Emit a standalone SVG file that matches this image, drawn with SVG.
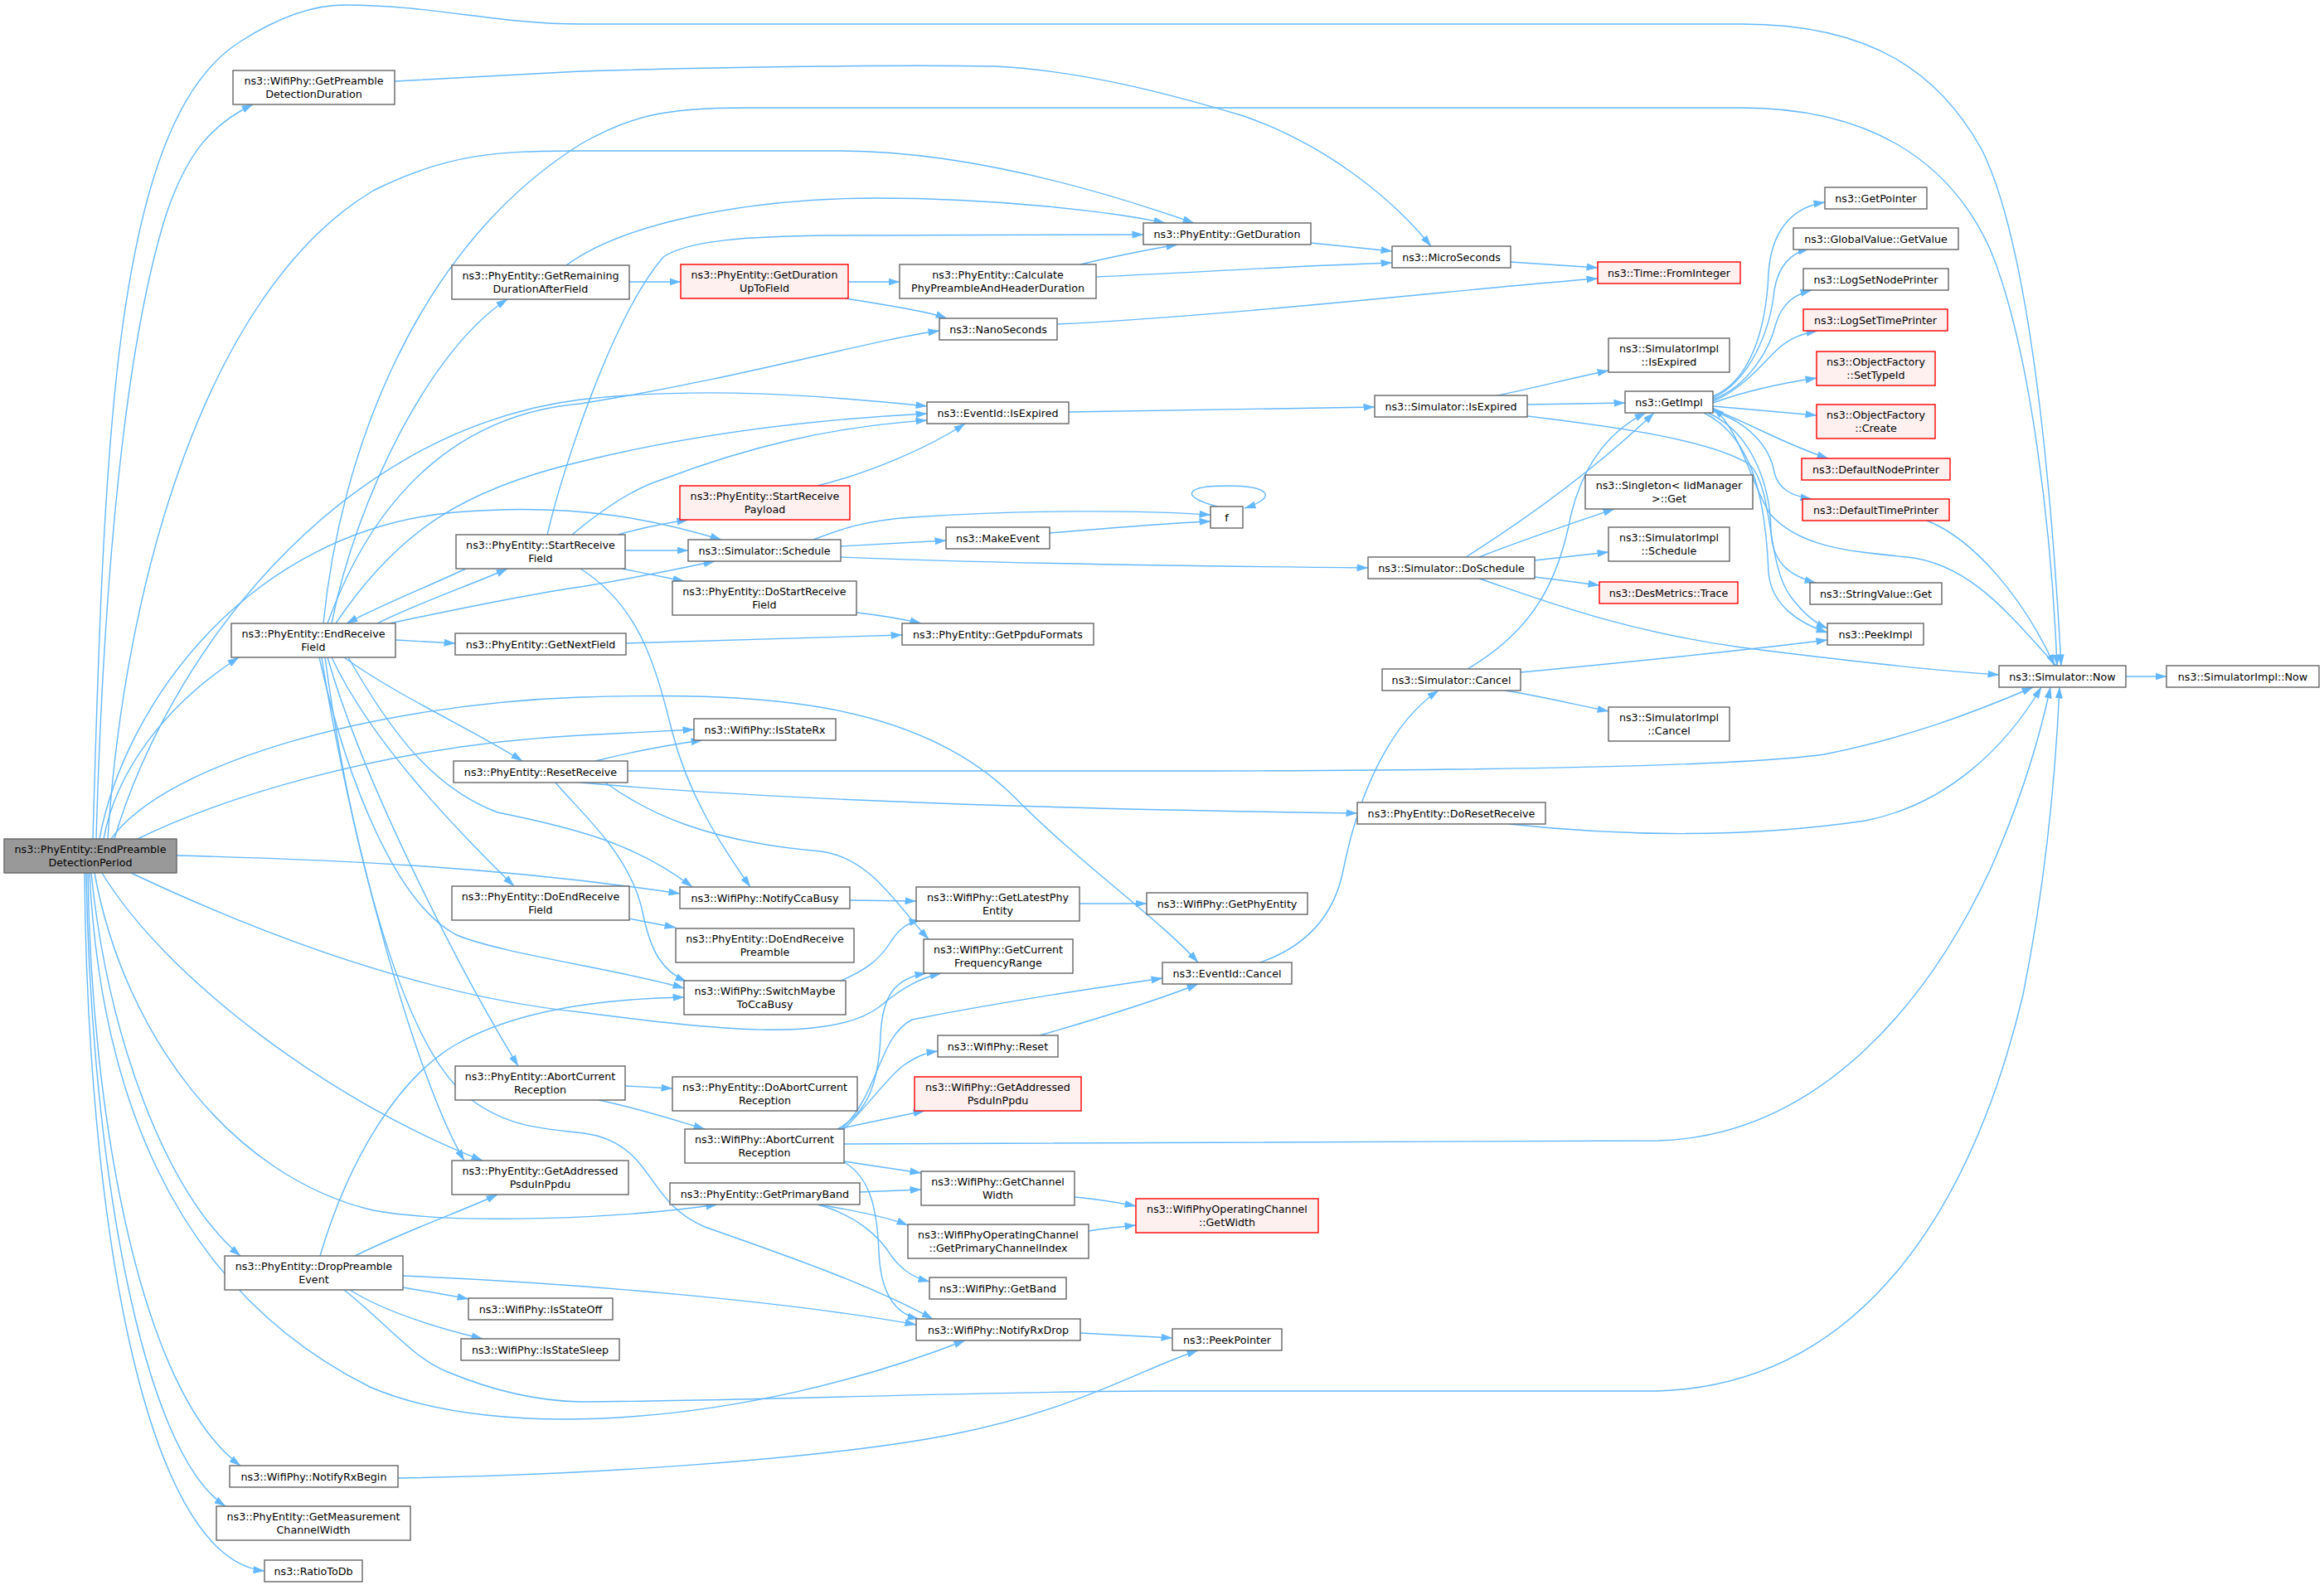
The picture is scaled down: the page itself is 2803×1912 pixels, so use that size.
<svg xmlns="http://www.w3.org/2000/svg" width="2803" height="1912" viewBox="0 0 2803 1912">
<defs>
<marker id="a" markerUnits="userSpaceOnUse" markerWidth="14" markerHeight="10" viewBox="0 0 14 10" refX="13.5" refY="5" orient="auto"><path d="M0,0.5 L14,5 L0,9.5 z" fill="#63b8ff"/></marker>
<style>
.n rect{fill:#ffffff;stroke:#666666;stroke-width:1.4}
.m rect{fill:#999999;stroke:#666666;stroke-width:1.4}
.r rect{fill:#fff0f0;stroke:#ff0000;stroke-width:1.4}
text{font-family:"DejaVu Sans","Liberation Sans",sans-serif;font-size:12.7px;text-anchor:middle;fill:#000000}
#edges path{fill:none;stroke:#63b8ff;stroke-width:1.4;marker-end:url(#a)}
</style>
</defs>
<rect width="2803" height="1912" fill="#ffffff"/>
<g id="edges">
<path d="M112,1012 C118,800 125,560 147,400 C170,230 210,100 290,50 C340,18 380,6 415,6 C520,6 600,29 700,29 L2100,29 C2260,29 2340,90 2390,180 C2450,300 2475,600 2486,803"/>
<path d="M116,1012 C125,700 150,420 200,260 C225,185 255,150 305,126"/>
<path d="M125,1012 C140,930 200,850 288,793"/>
<path d="M130,1012 C150,700 250,350 450,230 C540,185 600,182 700,182 L1012,182 C1150,182 1300,220 1440,269"/>
<path d="M138,1012 C200,800 400,520 700,482 C850,465 1000,478 1118,490"/>
<path d="M120,1012 C150,850 300,640 549,618 C700,605 800,630 870,651"/>
<path d="M166,1012 C250,970 450,900 700,887 C760,884 800,882 837,880"/>
<path d="M134,1012 C200,920 450,850 700,841 C900,835 1100,840 1222,960 C1300,1040 1400,1110 1445,1161"/>
<path d="M213,1032 C400,1037 600,1045 820,1078"/>
<path d="M158,1053 C300,1120 500,1200 700,1221 C850,1240 1000,1260 1060,1215 C1090,1190 1110,1180 1135,1174"/>
<path d="M123,1053 C200,1180 400,1330 582,1400"/>
<path d="M114,1053 C150,1250 280,1420 450,1460 C550,1478 750,1470 865,1453"/>
<path d="M110,1053 C130,1250 200,1440 290,1515"/>
<path d="M108,1053 C120,1300 200,1550 446,1673 C600,1740 900,1720 1164,1617"/>
<path d="M106,1053 C110,1350 170,1680 290,1768"/>
<path d="M104,1053 C110,1400 170,1750 272,1817"/>
<path d="M102,1053 C105,1450 170,1880 319,1895"/>
<path d="M400,752 C430,600 520,420 612,361"/>
<path d="M395,752 C450,600 550,500 700,487 C900,455 1050,410 1133,399"/>
<path d="M390,752 C410,550 500,300 700,174 C760,140 800,130 900,130 L2100,130 C2250,130 2350,190 2400,300 C2450,420 2475,650 2481,803"/>
<path d="M405,752 C480,640 560,590 700,557 C850,520 1000,505 1118,499"/>
<path d="M690,645 C720,620 760,590 800,578 C900,540 1000,515 1118,507"/>
<path d="M455,752 C510,725 570,705 612,686"/>
<path d="M562,686 C510,710 460,730 418,752"/>
<path d="M470,752 C550,735 650,715 700,708 C760,698 820,686 862,677"/>
<path d="M477,772 L549,776"/>
<path d="M415,793 C480,840 570,880 630,918"/>
<path d="M400,793 C450,900 560,1010 620,1069"/>
<path d="M395,793 C440,950 560,1180 625,1286"/>
<path d="M388,793 C420,1000 500,1300 560,1400"/>
<path d="M392,793 C420,1000 480,1250 560,1320 C620,1370 680,1360 720,1370 C790,1390 780,1450 850,1480 C950,1515 1050,1550 1125,1591"/>
<path d="M385,793 C420,950 480,1090 549,1127 C600,1150 750,1170 825,1192"/>
<path d="M420,793 C470,880 520,950 600,980 C700,1000 770,1020 835,1070"/>
<path d="M718,918 C770,905 810,898 847,893"/>
<path d="M757,930 L1400,930 C1800,930 2100,924 2200,910 C2300,890 2380,860 2452,829"/>
<path d="M700,944 C900,962 1200,975 1637,981"/>
<path d="M670,944 C700,980 760,1030 775,1100 C785,1150 800,1172 828,1184"/>
<path d="M730,944 C780,980 850,1015 990,1027 C1050,1035 1080,1090 1120,1133"/>
<path d="M660,645 C680,560 740,380 800,310 C830,290 900,285 1000,284 L1379,283"/>
<path d="M745,645 C780,635 810,630 830,627"/>
<path d="M754,664 L830,664"/>
<path d="M750,686 L825,701"/>
<path d="M700,686 C770,730 790,800 810,880 C830,960 870,1020 905,1070"/>
<path d="M759,340 L821,340"/>
<path d="M683,320 C750,270 900,239 1057,239 C1200,239 1340,255 1405,269"/>
<path d="M1023,340 L1085,340"/>
<path d="M1020,360 C1070,368 1120,376 1142,384"/>
<path d="M1303,319 C1340,310 1380,302 1420,295"/>
<path d="M1322,334 C1450,328 1580,320 1679,317"/>
<path d="M476,98 L700,86 C900,80 1100,78 1200,80 C1300,85 1400,110 1500,140 C1600,175 1680,240 1726,297"/>
<path d="M1581,293 L1679,303"/>
<path d="M1822,316 L1927,323"/>
<path d="M1275,391 C1500,380 1800,345 1927,336"/>
<path d="M1289,497 L1658,491"/>
<path d="M1806,477 C1850,468 1900,455 1940,447"/>
<path d="M1842,488 L1960,486"/>
<path d="M1842,502 C1950,515 2060,530 2110,560 C2140,590 2130,680 2160,720 C2175,740 2190,752 2204,758"/>
<path d="M986,586 C1050,570 1120,540 1164,511"/>
<path d="M1014,659 L1141,652"/>
<path d="M981,651 C1010,640 1040,628 1100,624 C1250,614 1380,616 1460,621"/>
<path d="M1014,672 C1200,680 1450,683 1650,685"/>
<path d="M1266,643 C1350,636 1420,630 1460,629"/>
<path d="M1468,611 C1420,598 1432,586 1480,586 C1532,586 1542,600 1501,613"/>
<path d="M1768,672 C1850,620 1930,560 1995,498"/>
<path d="M1784,672 C1840,650 1900,630 1947,614"/>
<path d="M1851,676 L1940,666"/>
<path d="M1851,696 L1929,706"/>
<path d="M1784,698 C1850,720 1950,760 2100,781 C2250,800 2350,810 2411,814"/>
<path d="M1770,807 C1850,760 1880,700 1895,620 C1910,560 1940,520 1985,498"/>
<path d="M1834,811 C1950,800 2100,785 2204,772"/>
<path d="M1815,833 C1860,840 1900,850 1940,858"/>
<path d="M1520,1161 C1580,1140 1610,1100 1620,1050 C1640,950 1680,870 1735,833"/>
<path d="M2066,478 C2110,460 2130,400 2133,330 C2136,280 2160,250 2201,244"/>
<path d="M2066,480 C2110,460 2135,400 2140,350 C2145,320 2160,305 2182,300"/>
<path d="M2066,482 C2110,465 2135,420 2142,390 C2150,365 2165,355 2185,350"/>
<path d="M2066,484 C2100,470 2125,440 2140,425 C2155,410 2170,403 2192,399"/>
<path d="M2066,486 C2110,470 2150,462 2191,456"/>
<path d="M2066,490 L2191,501"/>
<path d="M2066,494 C2110,510 2150,535 2205,553"/>
<path d="M2066,496 C2110,510 2135,540 2140,570 C2145,590 2160,598 2185,602"/>
<path d="M2060,498 C2110,520 2135,580 2136,640 C2137,680 2160,695 2190,703"/>
<path d="M2055,498 C2120,530 2130,620 2133,690 C2136,730 2170,752 2204,763"/>
<path d="M2480,803 C2430,750 2380,680 2300,672 C2230,665 2170,660 2135,620 C2110,580 2100,520 2066,492"/>
<path d="M2324,628 C2380,650 2440,720 2478,803"/>
<path d="M2564,816 L2613,816"/>
<path d="M1820,994 C1950,1008 2100,1012 2250,990 C2350,970 2420,900 2462,829"/>
<path d="M1018,1380 L2000,1376 C2200,1370 2330,1200 2400,1050 C2440,960 2460,890 2473,829"/>
<path d="M1010,1362 C1050,1340 1060,1300 1062,1250 C1064,1200 1080,1180 1117,1174"/>
<path d="M1015,1362 C1060,1320 1060,1250 1100,1230 C1200,1210 1300,1195 1402,1180"/>
<path d="M1018,1362 C1050,1330 1070,1300 1090,1285 C1105,1275 1115,1270 1131,1268"/>
<path d="M1010,1362 L1115,1340"/>
<path d="M1018,1401 L1111,1415"/>
<path d="M1018,1402 C1050,1420 1058,1460 1060,1510 C1062,1560 1080,1585 1108,1591"/>
<path d="M1254,1249 C1320,1230 1400,1205 1445,1187"/>
<path d="M754,1310 L811,1313"/>
<path d="M722,1327 C770,1337 810,1350 850,1362"/>
<path d="M1037,1438 L1111,1435"/>
<path d="M986,1453 C1030,1460 1070,1468 1095,1478"/>
<path d="M986,1453 C1030,1465 1060,1490 1075,1515 C1090,1535 1105,1542 1121,1546"/>
<path d="M1296,1444 C1320,1446 1345,1450 1370,1455"/>
<path d="M1313,1485 C1330,1482 1350,1480 1370,1478"/>
<path d="M1303,1608 L1414,1614"/>
<path d="M480,1783 C700,1780 1000,1760 1150,1730 C1300,1700 1380,1650 1445,1629"/>
<path d="M386,1515 C420,1400 480,1300 550,1260 C620,1220 720,1205 825,1203"/>
<path d="M428,1515 C500,1480 560,1460 600,1441"/>
<path d="M486,1539 C700,1548 950,1570 1105,1598"/>
<path d="M486,1553 C515,1558 540,1562 565,1567"/>
<path d="M422,1556 C460,1580 520,1600 582,1615"/>
<path d="M415,1556 C470,1600 500,1640 540,1655 C600,1680 650,1690 700,1691 C900,1690 1200,1678 1400,1678 L2000,1678 C2250,1670 2380,1450 2440,1200 C2470,1050 2480,920 2484,829"/>
<path d="M758,1108 L815,1119"/>
<path d="M1025,1086 L1105,1087"/>
<path d="M1012,1184 C1040,1172 1060,1160 1075,1135 C1085,1120 1095,1113 1110,1110"/>
<path d="M1302,1090 L1383,1090"/>
<path d="M755,776 L1088,766"/>
<path d="M1033,739 C1060,742 1090,747 1111,752"/>
</g>
<g id="n0" class="m"><rect x="5" y="1012" width="208" height="41"/><text x="109" y="1029">ns3::PhyEntity::EndPreamble</text><text x="109" y="1045">DetectionPeriod</text></g>
<g id="gpdd" class="n"><rect x="281" y="85" width="195" height="41"/><text x="378.5" y="102">ns3::WifiPhy::GetPreamble</text><text x="378.5" y="118">DetectionDuration</text></g>
<g id="erf" class="n"><rect x="279" y="752" width="198" height="41"/><text x="378" y="769">ns3::PhyEntity::EndReceive</text><text x="378" y="785">Field</text></g>
<g id="dpe" class="n"><rect x="271" y="1515" width="215" height="41"/><text x="378.5" y="1532">ns3::PhyEntity::DropPreamble</text><text x="378.5" y="1548">Event</text></g>
<g id="nrb" class="n"><rect x="277" y="1768" width="203" height="26"/><text x="378.5" y="1785.5">ns3::WifiPhy::NotifyRxBegin</text></g>
<g id="gmcw" class="n"><rect x="261" y="1817" width="234" height="41"/><text x="378" y="1834">ns3::PhyEntity::GetMeasurement</text><text x="378" y="1850">ChannelWidth</text></g>
<g id="rtd" class="n"><rect x="319" y="1882" width="118" height="26"/><text x="378" y="1899.5">ns3::RatioToDb</text></g>
<g id="grdaf" class="n"><rect x="545" y="320" width="214" height="41"/><text x="652" y="337">ns3::PhyEntity::GetRemaining</text><text x="652" y="353">DurationAfterField</text></g>
<g id="srf" class="n"><rect x="550" y="645" width="204" height="41"/><text x="652" y="662">ns3::PhyEntity::StartReceive</text><text x="652" y="678">Field</text></g>
<g id="gnf" class="n"><rect x="549" y="764" width="206" height="26"/><text x="652" y="781.5">ns3::PhyEntity::GetNextField</text></g>
<g id="rr" class="n"><rect x="547" y="918" width="210" height="26"/><text x="652" y="935.5">ns3::PhyEntity::ResetReceive</text></g>
<g id="derf" class="n"><rect x="545" y="1069" width="214" height="41"/><text x="652" y="1086">ns3::PhyEntity::DoEndReceive</text><text x="652" y="1102">Field</text></g>
<g id="acr" class="n"><rect x="549" y="1286" width="205" height="41"/><text x="651.5" y="1303">ns3::PhyEntity::AbortCurrent</text><text x="651.5" y="1319">Reception</text></g>
<g id="gap" class="n"><rect x="545" y="1400" width="213" height="41"/><text x="651.5" y="1417">ns3::PhyEntity::GetAddressed</text><text x="651.5" y="1433">PsduInPpdu</text></g>
<g id="iso" class="n"><rect x="565" y="1566" width="174" height="26"/><text x="652" y="1583.5">ns3::WifiPhy::IsStateOff</text></g>
<g id="iss" class="n"><rect x="556" y="1615" width="191" height="26"/><text x="651.5" y="1632.5">ns3::WifiPhy::IsStateSleep</text></g>
<g id="gdutf" class="r"><rect x="821" y="319" width="202" height="41"/><text x="922" y="336">ns3::PhyEntity::GetDuration</text><text x="922" y="352">UpToField</text></g>
<g id="srp" class="r"><rect x="820" y="586" width="205" height="41"/><text x="922.5" y="603">ns3::PhyEntity::StartReceive</text><text x="922.5" y="619">Payload</text></g>
<g id="ss" class="n"><rect x="830" y="651" width="184" height="26"/><text x="922" y="668.5">ns3::Simulator::Schedule</text></g>
<g id="dsrf" class="n"><rect x="811" y="701" width="222" height="41"/><text x="922" y="718">ns3::PhyEntity::DoStartReceive</text><text x="922" y="734">Field</text></g>
<g id="isrx" class="n"><rect x="837" y="867" width="171" height="26"/><text x="922.5" y="884.5">ns3::WifiPhy::IsStateRx</text></g>
<g id="ncb" class="n"><rect x="820" y="1070" width="205" height="26"/><text x="922.5" y="1087.5">ns3::WifiPhy::NotifyCcaBusy</text></g>
<g id="derp" class="n"><rect x="815" y="1120" width="215" height="41"/><text x="922.5" y="1137">ns3::PhyEntity::DoEndReceive</text><text x="922.5" y="1153">Preamble</text></g>
<g id="smtcb" class="n"><rect x="825" y="1183" width="195" height="41"/><text x="922.5" y="1200">ns3::WifiPhy::SwitchMaybe</text><text x="922.5" y="1216">ToCcaBusy</text></g>
<g id="dacr" class="n"><rect x="811" y="1299" width="223" height="41"/><text x="922.5" y="1316">ns3::PhyEntity::DoAbortCurrent</text><text x="922.5" y="1332">Reception</text></g>
<g id="wacr" class="n"><rect x="826" y="1362" width="192" height="41"/><text x="922" y="1379">ns3::WifiPhy::AbortCurrent</text><text x="922" y="1395">Reception</text></g>
<g id="gpb" class="n"><rect x="808" y="1427" width="229" height="26"/><text x="922.5" y="1444.5">ns3::PhyEntity::GetPrimaryBand</text></g>
<g id="calc" class="n"><rect x="1085" y="319" width="237" height="41"/><text x="1203.5" y="336">ns3::PhyEntity::Calculate</text><text x="1203.5" y="352">PhyPreambleAndHeaderDuration</text></g>
<g id="ns" class="n"><rect x="1133" y="384" width="142" height="26"/><text x="1204" y="401.5">ns3::NanoSeconds</text></g>
<g id="eie" class="n"><rect x="1118" y="485" width="171" height="26"/><text x="1203.5" y="502.5">ns3::EventId::IsExpired</text></g>
<g id="me" class="n"><rect x="1141" y="636" width="125" height="26"/><text x="1203.5" y="653.5">ns3::MakeEvent</text></g>
<g id="gpf" class="n"><rect x="1088" y="752" width="231" height="26"/><text x="1203.5" y="769.5">ns3::PhyEntity::GetPpduFormats</text></g>
<g id="glpe" class="n"><rect x="1105" y="1070" width="197" height="41"/><text x="1203.5" y="1087">ns3::WifiPhy::GetLatestPhy</text><text x="1203.5" y="1103">Entity</text></g>
<g id="gcfr" class="n"><rect x="1114" y="1133" width="180" height="41"/><text x="1204" y="1150">ns3::WifiPhy::GetCurrent</text><text x="1204" y="1166">FrequencyRange</text></g>
<g id="wr" class="n"><rect x="1131" y="1249" width="145" height="26"/><text x="1203.5" y="1266.5">ns3::WifiPhy::Reset</text></g>
<g id="wgap" class="r"><rect x="1103" y="1299" width="201" height="41"/><text x="1203.5" y="1316">ns3::WifiPhy::GetAddressed</text><text x="1203.5" y="1332">PsduInPpdu</text></g>
<g id="gcw" class="n"><rect x="1111" y="1413" width="185" height="41"/><text x="1203.5" y="1430">ns3::WifiPhy::GetChannel</text><text x="1203.5" y="1446">Width</text></g>
<g id="gpci" class="n"><rect x="1095" y="1477" width="218" height="41"/><text x="1204" y="1494">ns3::WifiPhyOperatingChannel</text><text x="1204" y="1510">::GetPrimaryChannelIndex</text></g>
<g id="gb" class="n"><rect x="1121" y="1541" width="165" height="26"/><text x="1203.5" y="1558.5">ns3::WifiPhy::GetBand</text></g>
<g id="nrd" class="n"><rect x="1105" y="1591" width="198" height="26"/><text x="1204" y="1608.5">ns3::WifiPhy::NotifyRxDrop</text></g>
<g id="gd" class="n"><rect x="1379" y="269" width="202" height="26"/><text x="1480" y="286.5">ns3::PhyEntity::GetDuration</text></g>
<g id="f" class="n"><rect x="1460" y="611" width="39" height="26"/><text x="1479.5" y="628.5">f</text></g>
<g id="gpe" class="n"><rect x="1383" y="1077" width="194" height="26"/><text x="1480" y="1094.5">ns3::WifiPhy::GetPhyEntity</text></g>
<g id="eic" class="n"><rect x="1402" y="1161" width="156" height="26"/><text x="1480" y="1178.5">ns3::EventId::Cancel</text></g>
<g id="gw" class="r"><rect x="1370" y="1446" width="220" height="41"/><text x="1480" y="1463">ns3::WifiPhyOperatingChannel</text><text x="1480" y="1479">::GetWidth</text></g>
<g id="pp" class="n"><rect x="1414" y="1603" width="132" height="26"/><text x="1480" y="1620.5">ns3::PeekPointer</text></g>
<g id="ms" class="n"><rect x="1679" y="297" width="143" height="26"/><text x="1750.5" y="314.5">ns3::MicroSeconds</text></g>
<g id="sie" class="n"><rect x="1658" y="477" width="184" height="26"/><text x="1750" y="494.5">ns3::Simulator::IsExpired</text></g>
<g id="dsch" class="n"><rect x="1650" y="672" width="201" height="26"/><text x="1750.5" y="689.5">ns3::Simulator::DoSchedule</text></g>
<g id="sc" class="n"><rect x="1667" y="807" width="167" height="26"/><text x="1750.5" y="824.5">ns3::Simulator::Cancel</text></g>
<g id="dsr" class="n"><rect x="1637" y="968" width="227" height="26"/><text x="1750.5" y="985.5">ns3::PhyEntity::DoResetReceive</text></g>
<g id="tfi" class="r"><rect x="1927" y="316" width="172" height="26"/><text x="2013" y="333.5">ns3::Time::FromInteger</text></g>
<g id="siie" class="n"><rect x="1940" y="408" width="146" height="41"/><text x="2013" y="425">ns3::SimulatorImpl</text><text x="2013" y="441">::IsExpired</text></g>
<g id="gi" class="n"><rect x="1960" y="472" width="106" height="26"/><text x="2013" y="489.5">ns3::GetImpl</text></g>
<g id="sg" class="n"><rect x="1912" y="573" width="202" height="41"/><text x="2013" y="590">ns3::Singleton&lt; IidManager</text><text x="2013" y="606">&gt;::Get</text></g>
<g id="sis" class="n"><rect x="1940" y="636" width="146" height="41"/><text x="2013" y="653">ns3::SimulatorImpl</text><text x="2013" y="669">::Schedule</text></g>
<g id="dmt" class="r"><rect x="1929" y="702" width="167" height="26"/><text x="2012.5" y="719.5">ns3::DesMetrics::Trace</text></g>
<g id="sic" class="n"><rect x="1940" y="853" width="146" height="41"/><text x="2013" y="870">ns3::SimulatorImpl</text><text x="2013" y="886">::Cancel</text></g>
<g id="gp" class="n"><rect x="2201" y="226" width="123" height="26"/><text x="2262.5" y="243.5">ns3::GetPointer</text></g>
<g id="ggv" class="n"><rect x="2163" y="275" width="199" height="26"/><text x="2262.5" y="292.5">ns3::GlobalValue::GetValue</text></g>
<g id="lsnp" class="n"><rect x="2175" y="324" width="175" height="26"/><text x="2262.5" y="341.5">ns3::LogSetNodePrinter</text></g>
<g id="lstp" class="r"><rect x="2175" y="373" width="174" height="26"/><text x="2262" y="390.5">ns3::LogSetTimePrinter</text></g>
<g id="ofst" class="r"><rect x="2191" y="424" width="143" height="41"/><text x="2262.5" y="441">ns3::ObjectFactory</text><text x="2262.5" y="457">::SetTypeId</text></g>
<g id="ofc" class="r"><rect x="2191" y="488" width="143" height="41"/><text x="2262.5" y="505">ns3::ObjectFactory</text><text x="2262.5" y="521">::Create</text></g>
<g id="dnp" class="r"><rect x="2173" y="553" width="179" height="26"/><text x="2262.5" y="570.5">ns3::DefaultNodePrinter</text></g>
<g id="dtp" class="r"><rect x="2174" y="602" width="177" height="26"/><text x="2262.5" y="619.5">ns3::DefaultTimePrinter</text></g>
<g id="svg" class="n"><rect x="2183" y="703" width="159" height="26"/><text x="2262.5" y="720.5">ns3::StringValue::Get</text></g>
<g id="pi" class="n"><rect x="2204" y="752" width="116" height="26"/><text x="2262" y="769.5">ns3::PeekImpl</text></g>
<g id="now" class="n"><rect x="2411" y="803" width="153" height="26"/><text x="2487.5" y="820.5">ns3::Simulator::Now</text></g>
<g id="sin" class="n"><rect x="2613" y="803" width="184" height="26"/><text x="2705" y="820.5">ns3::SimulatorImpl::Now</text></g>
</svg>
